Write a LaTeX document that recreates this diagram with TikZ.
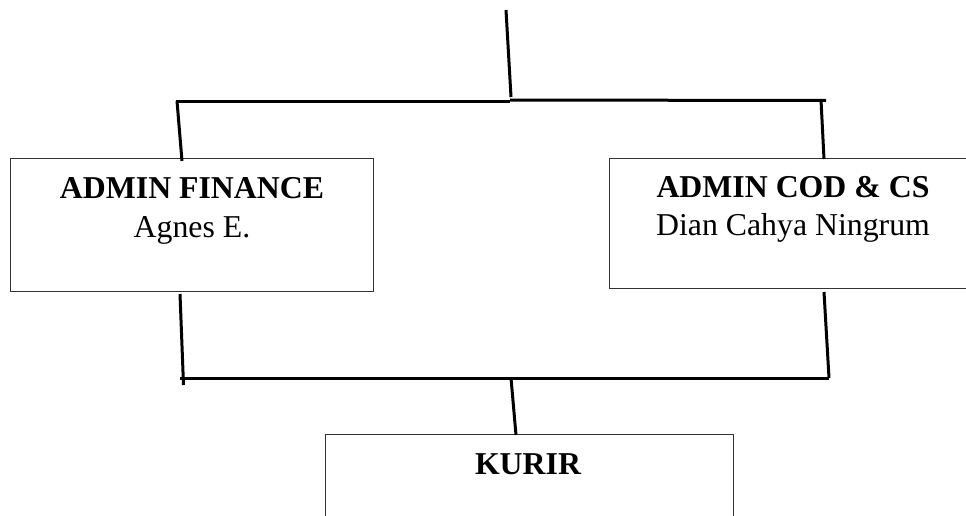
\documentclass[tikz,border=0pt]{standalone}
\usepackage{fontspec}
\setmainfont{Liberation Serif}
\begin{document}
\begin{tikzpicture}[x=1pt,y=-1pt,
  orgbox/.style={draw=black!80,line width=1pt,rectangle,inner sep=0pt,fill=none},
  conn/.style={line width=3pt,black,line cap=butt},
  lbl/.style={anchor=base,inner sep=0pt,font=\fontsize{31.8}{38}\selectfont},
  lblb/.style={lbl,font=\fontsize{31.8}{38}\selectfont\bfseries}]
\useasboundingbox (0,0) rectangle (966,516);
\clip (0,0) rectangle (966,516);
% boxes
\node[orgbox,minimum width=362.3pt,minimum height=133pt] (fin) at (192,224.5) {};
\node[orgbox,minimum width=366pt,minimum height=130pt] (cod) at (792,223) {};
\node[orgbox,minimum width=408pt,minimum height=130pt] (kur) at (529,499) {};
% texts
\node[lblb] (fint) at (192,198) {ADMIN FINANCE};
\node[lbl] (finn) at (192,237) {Agnes E.};
\node[lblb] (codt) at (793,197) {ADMIN COD \& CS};
\node[lbl] (codn) at (793,235) {Dian Cahya Ningrum};
\node[lblb] (kurt) at (528,474) {KURIR};
% junctions
\coordinate (topend) at (506,10);
\coordinate (jtop) at (511,97);
\coordinate (jl) at (176,102);
\coordinate (jml) at (510,102);
\coordinate (jmr) at (510,100);
\coordinate (jr) at (826,100.5);
\coordinate (finin) at (182,161);
\coordinate (codin) at (824,159);
\coordinate (finout) at (180,294);
\coordinate (codout) at (824,292);
\coordinate (bl) at (183.5,385);
\coordinate (bll) at (180,378);
\coordinate (br) at (829,378);
\coordinate (bm) at (511,378);
\coordinate (kurin) at (516,435);
% connectors
\draw[conn] (topend) -- (jtop);
\draw[conn] (jl) -- (jml);
\draw[conn] (jmr) -- (jr);
\draw[conn] (177,101) -- (finin);
\draw[conn] (821,100) -- (codin);
\draw[conn] (finout) -- (bl);
\draw[conn] (codout) -- (br);
\draw[conn] (bll) -- (br);
\draw[conn] (bm) -- (kurin);
\end{tikzpicture}
\end{document}
